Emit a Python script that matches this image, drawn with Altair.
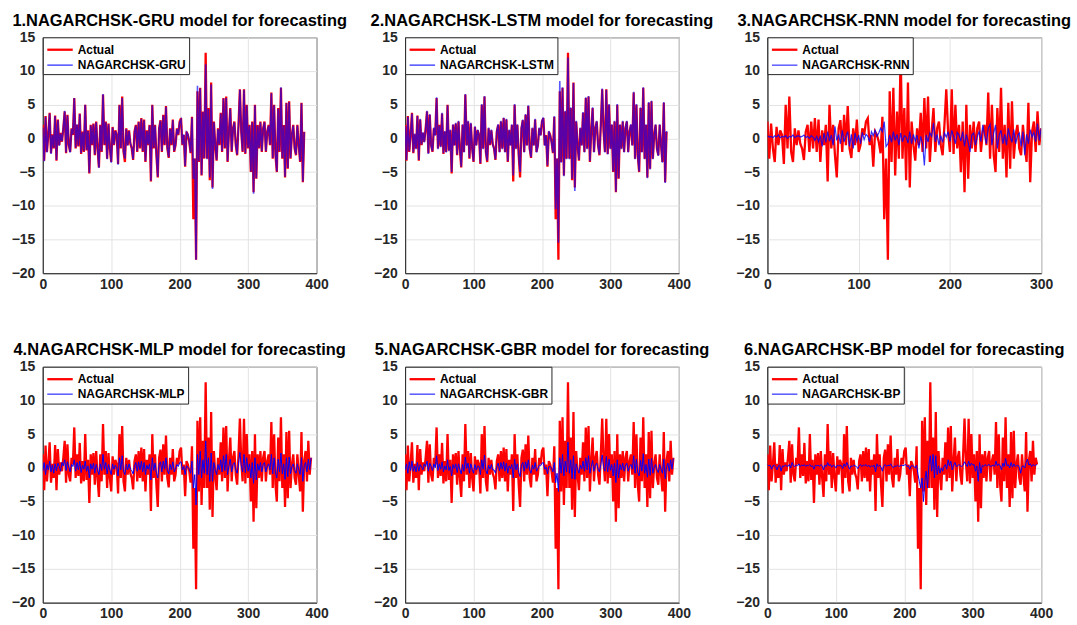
import altair as alt
import pandas as pd

# sample spacing of the series (every second observation is kept)
STEP = 2

ACTUAL = [
    2.0, -3.3, 3.3, -2.0, 0.5, 3.8, -2.2, 0.6, -1.5, 3.4,
    -3.3, 2.8, -1.0, 0.8, -0.5, 1.5, 4.0, -2.2, 3.5, -1.0,
    -2.0, 1.5, 0.5, 6.0, -1.5, 2.0, -1.2, 3.7, -2.3, 1.0,
    -2.0, 5.0, -1.8, 1.2, -5.2, 2.0, -1.0, 2.2, -2.5, 2.5,
    -1.5, -4.3, 2.0, -2.0, 6.5, -1.0, 2.5, -3.0, 2.2, -1.5,
    -3.5, 1.7, -1.0, 1.2, 0.5, -3.8, 5.0, -1.5, 6.2, -2.0,
    -3.5, 1.5, -1.0, 1.2, -0.8, -1.5, -3.2, 1.0, 2.0, -2.0,
    2.5, -1.5, 3.0, -2.0, 2.8, -3.5, 1.2, -1.0, 2.0, -6.4,
    5.0, -1.5, 2.0, -2.5, -5.8, 1.5, 2.7, -2.0, 3.5, -1.0,
    4.8, -1.5, -2.9, 1.5, -1.0, 2.8, -2.0, -1.0, 1.5, 0.5,
    2.5, 3.0, -1.0, 0.5, -4.2, 1.0, 0.5, -0.5, -2.2, 3.2,
    -12.0, -3.0, -18.0, 7.0, -3.5, 7.5, -5.5, 4.0, -3.0, 12.7,
    -3.0, 4.5, -6.2, 8.3, -7.3, 2.5, -1.0, -3.3, 1.5, -1.0,
    3.8, -2.0, 6.0, -1.5, 6.2, -3.5, 1.0, 4.5, -2.0, 1.5,
    2.5, -1.0, -2.5, 2.0, 7.3, 1.0, -2.0, 7.3, -2.3, 5.0,
    -1.5, 2.0, -5.0, 2.5, -8.0, 5.0, -6.0, 2.0, -1.5, 2.5,
    -2.0, 1.5, 2.5, -2.0, 1.0, 2.0, -1.0, 6.8, -3.0, 5.0,
    -2.5, -5.0, 4.5, -2.0, 7.5, -3.0, 2.0, -5.8, 5.3, -4.5,
    5.5, -3.0, 0.5, 2.0, -1.5, -2.5, 2.0, -1.0, -3.5, 5.3,
    -6.5, 1.0, 2.5, -2.0, 4.0, -1.0, 1.5, 0.5,
]

GRU = [
    1.6, -3.4, 3.2, -2.1, 0.6, 3.7, -2.3, 0.5, -1.4, 3.3,
    -3.2, 2.7, -1.1, 0.7, -0.4, 1.6, 4.1, -2.1, 3.4, -0.9,
    -2.1, 1.4, 0.6, 6.0, -1.4, 2.1, -1.1, 3.6, -2.2, 0.9,
    -1.9, 5.0, -1.7, 1.1, -5.1, 1.9, -0.9, 2.1, -2.4, 2.4,
    -1.4, -4.4, 1.9, -1.9, 6.6, -0.9, 2.4, -3.1, 2.1, -1.4,
    -3.6, 1.6, -0.9, 1.1, 0.6, -3.9, 4.9, -1.4, 6.0, -1.9,
    -3.0, 1.4, -1.1, 1.1, -0.7, -1.4, -3.1, 0.9, 1.9, -1.9,
    2.4, -1.4, 2.9, -1.9, 2.7, -3.4, 1.1, -0.9, 1.9, -6.3,
    4.9, -1.4, 1.9, -2.4, -5.7, 1.4, 2.6, -1.9, 3.4, -0.9,
    4.7, -1.4, -2.8, 1.4, -0.9, 2.7, -1.9, -0.9, 1.4, 0.6,
    2.4, 2.8, -0.9, 0.6, -4.1, 0.9, 0.6, -0.4, -2.1, 3.1,
    -6.0, -3.0, -18.0, 7.8, -3.4, 7.4, -5.4, 3.9, -2.9, 11.0,
    -3.1, 4.4, -5.8, 8.0, -7.5, 2.4, -0.9, -3.2, 1.4, -0.9,
    3.7, -1.9, 5.9, -1.4, 6.0, -3.4, 0.9, 4.4, -1.9, 1.4,
    2.4, -0.9, -2.4, 1.9, 7.2, 0.9, -1.9, 7.2, -2.2, 4.9,
    -1.4, 1.9, -4.9, 2.4, -8.2, 4.9, -5.9, 1.9, -1.4, 2.4,
    -1.9, 1.4, 2.4, -1.9, 0.9, 1.9, -0.9, 6.7, -2.9, 4.9,
    -2.4, -4.9, 4.4, -1.9, 7.6, -2.9, 1.9, -5.7, 5.2, -4.4,
    5.4, -2.9, 0.6, 1.9, -1.4, -2.4, 1.9, -0.9, -3.4, 5.2,
    -6.4, 0.9,
]

LSTM = [
    1.8, -3.2, 3.2, -1.9, 0.4, 3.7, -2.1, 0.7, -1.6, 3.3,
    -3.2, 2.9, -0.9, 0.9, -0.6, 1.4, 4.1, -2.3, 3.6, -1.1,
    -1.9, 1.6, 0.4, 6.1, -1.6, 1.9, -1.3, 3.8, -2.2, 1.1,
    -2.1, 4.9, -1.9, 1.3, -5.0, 2.1, -1.1, 2.3, -2.4, 2.6,
    -1.6, -4.2, 2.1, -2.1, 6.6, -1.1, 2.6, -2.9, 2.3, -1.6,
    -3.4, 1.8, -1.1, 1.3, 0.4, -3.7, 5.1, -1.6, 6.3, -2.1,
    -3.3, 1.6, -0.9, 1.3, -0.9, -1.6, -3.1, 1.1, 2.1, -2.1,
    2.6, -1.6, 3.1, -2.1, 2.9, -3.4, 1.3, -1.1, 2.1, -5.5,
    5.1, -1.6, 2.1, -2.4, -5.0, 1.6, 2.8, -2.1, 3.6, -1.1,
    4.9, -1.6, -2.8, 1.6, -1.1, 2.9, -2.1, -1.1, 1.6, 0.4,
    2.6, 3.1, -1.1, 0.4, -4.0, 1.1, 0.4, -0.6, -2.1, 3.3,
    -10.5, -3.0, -15.5, 8.5, -3.6, 7.6, -5.6, 4.1, -3.1, 12.0,
    -3.1, 4.6, -6.0, 8.2, -7.8, 2.6, -1.1, -3.2, 1.6, -1.1,
    3.9, -2.1, 6.1, -1.6, 6.3, -3.4, 1.1, 4.6, -2.1, 1.6,
    2.6, -1.1, -2.4, 2.1, 7.4, 1.1, -2.1, 7.2, -2.4, 5.1,
    -1.6, 2.1, -4.9, 2.6, -7.9, 5.1, -5.9, 2.1, -1.6, 2.6,
    -2.1, 1.6, 2.6, -2.1, 1.1, 2.1, -1.1, 6.9, -3.1, 5.1,
    -2.6, -4.9, 4.6, -2.1, 7.6, -3.1, 2.1, -5.9, 5.4, -4.6,
    5.6, -3.1, 0.4, 2.1, -1.6, -2.6, 2.1, -1.1, -3.6, 5.4,
    -6.6, 1.1,
]

RNN = [
    0.4, 0.2, 0.3, 0.1, 0.4, 0.2, 0.5, 0.1, 0.3, 0.2,
    0.4, 0.0, 0.3, 0.2, 0.5, 0.1, 0.3, 0.4, 0.2, 0.3,
    0.5, 0.1, 0.3, 0.0, 0.4, 0.2, -0.3, 0.3, -0.5, 0.4,
    -1.2, 0.8, -0.6, 1.0, -0.4, 0.5, -1.0, 1.8, -0.3, 0.6,
    -0.8, 1.2, -0.5, 0.3, 1.0, -1.2, 0.6, -1.5, 0.8, -0.4,
    0.5, -0.8, 0.9, -0.2, 0.6, 0.3, -0.5, 1.0, 0.4, 1.2,
    0.3, 0.8, 1.5, 1.0, 2.5, -1.2, -0.8, 0.5, -0.6, 1.0,
    -0.3, 0.6, -1.0, 0.8, -0.5, 0.4, 0.2, -0.7, 1.0, -0.8,
    0.6, -0.4, 0.5, -1.5, 0.3, -0.8, -4.0, 0.5, -0.5, 0.8,
    0.3, 2.3, -0.5, 0.6, -1.0, 0.4, -0.6, 0.8, 0.2, 1.0,
    -0.5, 1.2, 0.3, -0.8, 0.9, 0.5, -0.4, 1.0, -1.2, 0.6,
    -0.6, -2.0, 0.5, 0.8, -1.0, 0.3, 1.0, -0.5, 2.0, 0.5,
    -0.8, 1.5, 2.1, -1.0, 0.8, 2.0, -1.5, 0.5, 1.2, -0.8,
    0.6, -1.0, 1.5, 0.2, -0.6, 1.3, -0.8, 0.4, 0.8, -1.2,
    1.0, -2.5, 0.6, -0.8, 1.3, 0.2, 0.9, -0.5, 2.2, -0.3,
    1.5,
]

MLP = [
    -0.5, 0.8, -1.0, 0.5, -0.3, 1.0, -0.6, 0.4, -0.8, 0.6,
    -0.4, 0.7, 0.2, -0.5, 0.8, 0.3, 1.2, -0.4, 0.9, 0.1,
    -0.6, 0.5, 0.2, 1.2, -0.5, 0.8, -0.3, 1.0, -0.7, 0.4,
    -0.2, 1.0, -0.5, 0.3, -1.5, 0.6, -0.2, 0.7, -0.8, 0.5,
    -0.3, -1.0, 0.6, -0.4, 2.0, -0.2, 0.8, -0.9, 0.5, -0.3,
    -1.0, 0.6, -0.2, 0.4, 0.1, -1.2, 1.5, -0.3, 1.8, -0.5,
    -1.0, 0.5, -0.3, 0.6, -0.2, -0.4, -0.9, 0.3, 0.8, -0.5,
    0.9, -0.3, 1.0, -0.6, 0.8, -1.0, 0.4, -0.2, 0.6, -1.8,
    1.5, -0.4, 0.7, -0.8, -1.5, 0.5, 0.9, -0.6, 1.0, -0.2,
    1.5, -0.4, -0.9, 0.5, -0.3, 0.9, -0.6, -0.2, 0.5, 0.2,
    0.8, 0.9, -0.3, 0.2, -1.0, 0.3, 0.1, -0.2, -0.8, 1.0,
    -3.0, -1.0, -5.5, 2.0, -1.0, 2.5, -1.5, 1.2, -0.8, 4.0,
    -1.0, 1.5, -2.0, 2.2, -2.0, 0.8, -0.3, -1.0, 0.5, -0.3,
    1.2, -0.6, 1.8, -0.4, 2.0, -1.0, 0.3, 1.3, -0.6, 0.5,
    0.8, -0.3, -0.8, 0.6, 2.3, 0.3, -0.6, 2.0, -0.7, 1.5,
    -0.5, 0.6, -1.5, 0.8, -2.3, 1.5, -1.8, 0.6, -0.4, 0.8,
    -0.6, 0.5, 0.8, -0.6, 0.3, 0.6, -0.3, 2.0, -0.9, 1.5,
    -0.8, -1.5, 1.3, -0.6, 2.2, -0.9, 0.6, -1.7, 1.5, -1.3,
    1.6, -0.9, 0.2, 0.6, -0.4, -0.8, 0.6, -0.3, -1.0, 1.5,
    -2.0, 0.3, 0.8, -0.6, 1.3, -0.3, 1.5,
]

GBR = [
    -0.3, 0.6, -0.8, 0.9, -0.4, 1.0, -0.5, 0.3, -0.6, 0.8,
    -0.5, 0.5, 0.1, -0.3, 0.6, 0.2, 1.0, -0.5, 0.7, 0.2,
    -0.4, 0.6, 0.0, 1.8, -0.4, 0.6, -0.2, 0.9, -0.6, 0.3,
    -0.3, 1.2, -0.4, 0.2, -1.2, 0.5, -0.1, 0.6, -0.7, 0.6,
    -0.2, -0.9, 0.5, -0.5, 1.6, -0.1, 0.7, -0.8, 0.6, -0.2,
    -0.8, 0.5, -0.3, 0.3, 0.2, -1.0, 1.2, -0.2, 1.9, -0.4,
    -0.9, 0.4, -0.2, 0.5, -0.3, -0.3, -0.8, 0.2, 0.7, -0.4,
    0.8, -0.2, 0.9, -0.5, 0.7, -0.8, 0.3, -0.1, 0.5, -1.5,
    1.3, -0.3, 0.6, -0.7, -1.3, 0.4, 0.8, -0.5, 0.9, -0.1,
    1.2, -0.3, -0.8, 0.4, -0.2, 0.8, -0.5, -0.1, 0.4, 0.3,
    0.7, 0.8, -0.2, 0.1, -0.9, 0.2, 0.2, -0.1, -0.6, 0.8,
    -2.2, -0.8, -3.5, 1.5, -0.8, 2.0, -1.2, 1.0, -0.6, 3.8,
    -0.8, 1.2, -1.6, 1.8, -1.7, 0.6, -0.2, -0.8, 0.4, -0.2,
    1.0, -0.5, 1.5, -0.3, 1.8, -0.8, 0.2, 1.1, -0.5, 0.4,
    0.7, -0.2, -0.6, 0.5, 1.9, 0.2, -0.5, 1.7, -0.6, 1.3,
    -0.4, 0.5, -1.2, 0.7, -2.2, 1.2, -1.5, 0.5, -0.3, 0.7,
    -0.5, 0.4, 0.7, -0.5, 0.2, 0.5, -0.2, 1.8, -0.8, 1.3,
    -0.7, -1.2, 1.1, -0.5, 2.1, -0.8, 0.5, -1.4, 1.3, -1.1,
    1.4, -0.8, 0.1, 0.5, -0.3, -0.7, 0.5, -0.2, -0.8, 1.3,
    -1.6, 0.2, 0.7, -0.5, 1.2, -0.2, 1.4,
]

BP = [
    0.5, 0.3, 0.4, -0.2, 0.3, 0.4, 0.2, -0.3, 0.3, 0.4,
    -0.5, 0.3, 0.2, 0.4, 0.3, 0.2, 0.5, 0.0, 0.8, 0.3,
    0.2, 0.4, 0.3, 0.6, 0.2, 0.4, 0.3, 0.5, 0.2, 0.4,
    0.3, 0.5, 0.2, 0.3, -0.2, 0.4, 0.3, 0.4, 0.2, 0.5,
    0.3, -0.3, 0.4, 0.2, 0.8, 0.3, 0.5, 0.1, 0.4, 0.3,
    0.0, 0.4, 0.3, 0.4, 0.3, -0.1, 0.6, 0.2, 0.8, 0.3,
    -0.2, 0.3, 0.2, 0.4, 0.3, 0.2, -0.1, 0.3, 0.5, 0.2,
    0.4, 0.3, 0.5, 0.2, 0.4, 0.1, 0.3, 0.2, 0.4, -0.6,
    0.6, 0.2, 0.4, 0.1, -0.5, 0.3, 0.5, 0.2, 0.4, 0.3,
    0.6, 0.2, 0.0, 0.3, 0.2, 0.4, 0.2, 0.3, 0.4, 0.3,
    0.4, 0.5, 0.2, 0.3, -0.2, 0.3, 0.3, 0.2, 0.0, 0.4,
    -1.0, -2.0, -3.0, -1.5, -5.0, -2.0, -0.5, -3.0, 0.5, 1.8,
    -0.5, 2.0, -1.5, 1.8, -1.0, 0.3, -0.8, 0.0, -0.5, 0.2,
    0.5, -0.2, 1.2, 0.3, 1.0, -0.3, 0.4, 0.8, 0.2, 0.3,
    0.5, 0.3, 0.2, 0.4, 0.9, 0.5, 0.2, 1.0, 0.3, 0.7,
    0.4, 0.5, -0.5, 0.3, -2.0, 0.8, -0.8, 0.4, 0.2, 0.5,
    0.3, 0.4, 0.5, 0.2, 0.3, 0.4, 0.2, 1.0, 0.3, 0.6,
    0.3, -0.3, 0.7, 0.2, 1.4, 0.3, 0.5, 0.0, 0.8, 0.1,
    0.6, 0.2, 0.3, 0.4, 0.1, -0.8, 0.2, 0.3, 0.0, 0.8,
    1.3, 0.4, 0.6, 0.2, 0.5, 0.3, 0.4, 0.5,
]

FONT = "Liberation Sans"
RED = "#ff0000"
BLUE = "#0000ff"
PW, PH = 275, 237


def make_df(actual, model, label):
    rows = [{"t": i * STEP, "v": v, "s": "Actual"} for i, v in enumerate(actual)]
    rows += [{"t": i * STEP, "v": v, "s": label} for i, v in enumerate(model)]
    return pd.DataFrame(rows)


def panel(num, name, actual, model, xmax, m_width, m_opacity):
    label = f"NAGARCHSK-{name}"
    dom = ["Actual", label]
    df = make_df(actual, model, label)
    xt = list(range(0, xmax + 1, 100))
    return (
        alt.Chart(
            df,
            title=alt.TitleParams(
                f"{num}.NAGARCHSK-{name} model for forecasting",
                font=FONT, fontSize=16.5, fontWeight="bold", color="#000000",
                anchor="middle", baseline="alphabetic", offset=-12,
            ),
        )
        .mark_line(clip=True, strokeJoin="miter")
        .encode(
            x=alt.X("t:Q", scale=alt.Scale(domain=[0, xmax], nice=False, zero=False),
                    axis=alt.Axis(values=xt, title=None, format="d")),
            y=alt.Y("v:Q", scale=alt.Scale(domain=[-20, 15], nice=False),
                    axis=alt.Axis(values=list(range(-20, 16, 5)), title=None, format="d")),
            color=alt.Color("s:N", scale=alt.Scale(domain=dom, range=[RED, BLUE]),
                            legend=alt.Legend(title=None)),
            strokeWidth=alt.StrokeWidth("s:N", scale=alt.Scale(domain=dom, range=[2.3, m_width]),
                                        legend=alt.Legend(title=None)),
            opacity=alt.Opacity("s:N", scale=alt.Scale(domain=dom, range=[1.0, m_opacity]),
                                legend=alt.Legend(title=None)),
        )
        .properties(width=PW, height=PH)
    )


p1 = panel(1, "GRU", ACTUAL[:192], GRU, 400, 1.6, 0.65)
p2 = panel(2, "LSTM", ACTUAL[:192], LSTM, 400, 1.6, 0.65)
p3 = panel(3, "RNN", ACTUAL[46:197], RNN, 300, 1.2, 0.8)
p4 = panel(4, "MLP", ACTUAL[:197], MLP, 400, 1.0, 1.0)
p5 = panel(5, "GBR", ACTUAL[:197], GBR, 400, 1.0, 1.0)
p6 = panel(6, "BP", ACTUAL, BP, 400, 1.0, 1.0)

chart = (
    alt.concat(p1, p2, p3, p4, p5, p6, columns=3,
               spacing={"row": 94, "column": 89}, bounds="flush")
    .resolve_scale(color="independent", strokeWidth="independent", opacity="independent")
    .resolve_legend(color="independent", strokeWidth="independent", opacity="independent")
    .properties(padding={"left": 10, "top": 11, "right": 5, "bottom": 5}, background="#ffffff")
    .configure_view(stroke="#262626", strokeWidth=1)
    .configure_axis(
        labelFont=FONT, labelFontSize=14, labelFontWeight="bold", labelColor="#262626",
        ticks=False, domain=True, domainColor="#262626", domainWidth=1,
        grid=True, gridColor="#e3e3e3", gridWidth=1, labelFlush=False,
    )
    .configure_axisY(labelPadding=8)
    .configure_axisX(labelPadding=4)
    .configure_legend(
        orient="top-left", offset=0, padding=3, rowPadding=0,
        labelFont=FONT, labelFontSize=12, labelFontWeight="bold", labelColor="#000000",
        labelOffset=13, symbolType="M-1,0H2.2", symbolSize=256,
        strokeColor="#262626", fillColor="#ffffff", cornerRadius=0,
    )
)

chart.save("out.html", embed_options={"renderer": "svg", "actions": False})
